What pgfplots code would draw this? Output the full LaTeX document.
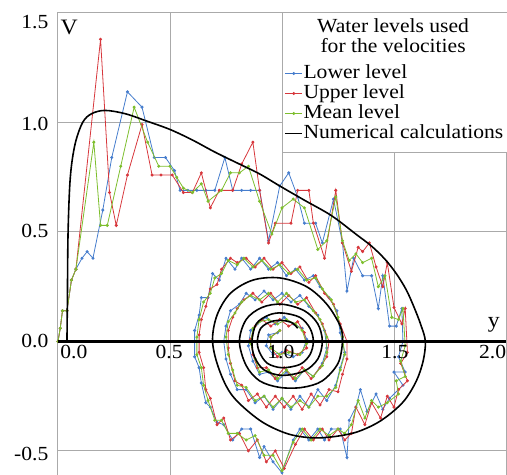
\documentclass[border=0pt]{standalone}
\usepackage{pgfplots}
\pgfplotsset{compat=1.18}
\usepackage{fontspec}
\setmainfont{Liberation Serif}[FakeStretch=1.08]
\definecolor{blueC}{RGB}{70,125,205}
\definecolor{redC}{RGB}{215,55,60}
\definecolor{greenC}{RGB}{125,190,45}
\definecolor{gridgray}{RGB}{170,170,170}
\newcommand{\tf}{\fontsize{20bp}{20bp}\selectfont}
\begin{document}
\begin{tikzpicture}
\useasboundingbox (-58bp,0bp) rectangle (449bp,475bp);
\begin{axis}[at={(0,0)}, anchor=south west, scale only axis,
  width=448bp, height=462bp,
  xmin=0, xmax=2, ymin=-0.61, ymax=1.5,
  xtick={0,0.5,1,1.5,2}, ytick={-0.5,0,0.5,1,1.5},
  xticklabels={}, yticklabels={}, major tick length=0pt,
  grid=major, grid style={draw=gridgray, line width=1bp},
  axis line style={draw=gridgray, line width=1bp},
  clip mode=individual,
  legend style={at={(0.505,0.891)}, anchor=north west, draw=none, fill=none,
    font=\tf, inner sep=0pt, row sep=0pt,
    nodes={inner sep=0.5bp, text height=14bp, text depth=5bp}},
  legend cell align=left,
  legend image code/.code={\draw[mark repeat=2,mark phase=2] plot coordinates {(0bp,0bp)(8.5bp,0bp)(17bp,0bp)};},
]
% Lower level (blue)
\addplot[color=blueC, line width=0.8bp, mark=*, mark size=1.1bp] coordinates {
(0.00,0.00)(0.01,0.06)(0.02,0.14)(0.04,0.14)(0.06,0.28)(0.08,0.33)(0.107,0.38)(0.13,0.41)(0.156,0.38)
(0.20,0.60)(0.24,0.84)(0.31,1.14)(0.375,1.07)(0.43,0.84)(0.48,0.84)(0.52,0.78)(0.545,0.69)(0.58,0.69)
(0.62,0.69)(0.66,0.69)(0.70,0.69)(0.745,0.84)(0.78,0.69)(0.82,0.69)(0.86,0.69)(0.90,0.69)(0.94,0.46)
(0.99,0.71)(1.03,0.77)(1.07,0.66)(1.10,0.54)(1.15,0.54)(1.18,0.45)(1.23,0.65)(1.27,0.45)(1.29,0.23)
(1.32,0.38)(1.36,0.30)(1.40,0.30)(1.43,0.15)(1.45,0.30)(1.48,0.07)(1.51,0.07)(1.535,0.15)(1.54,0.0)
(1.52,-0.07)(1.55,-0.14)(1.50,-0.14)(1.54,-0.20)(1.48,-0.26)(1.45,-0.31)(1.42,-0.24)(1.38,-0.32)
(1.35,-0.22)(1.33,-0.30)(1.30,-0.36)(1.29,-0.53)(1.26,-0.40)(1.22,-0.40)(1.19,-0.45)(1.16,-0.40)
(1.12,-0.45)(1.08,-0.40)(1.05,-0.45)(1.00,-0.60)(0.96,-0.55)(0.92,-0.48)(0.90,-0.53)(0.86,-0.40)
(0.82,-0.40)(0.78,-0.45)(0.74,-0.38)(0.71,-0.37)(0.68,-0.30)(0.66,-0.28)(0.64,-0.19)(0.63,-0.12)
(0.61,-0.07)(0.61,0.00)(0.61,0.05)(0.63,0.12)(0.64,0.20)(0.67,0.20)(0.69,0.31)(0.72,0.28)(0.75,0.38)
(0.79,0.33)(0.82,0.38)(0.86,0.33)(0.90,0.38)(0.94,0.33)(0.98,0.36)(1.02,0.30)(1.06,0.33)(1.10,0.28)
(1.14,0.30)(1.17,0.25)(1.21,0.20)(1.245,0.14)(1.26,0.04)(1.28,-0.05)(1.26,-0.12)(1.24,-0.20)
(1.20,-0.27)(1.16,-0.22)(1.12,-0.30)(1.08,-0.25)(1.04,-0.31)(1.00,-0.26)(0.96,-0.31)(0.92,-0.25)
(0.88,-0.28)(0.84,-0.22)(0.80,-0.22)(0.77,-0.15)(0.75,-0.08)(0.74,0.00)(0.75,0.07)(0.77,0.14)
(0.81,0.17)(0.84,0.22)(0.88,0.19)(0.92,0.23)(0.96,0.19)(1.00,0.22)(1.04,0.18)(1.08,0.21)(1.12,0.16)
(1.16,0.12)(1.19,0.05)(1.20,-0.03)(1.18,-0.10)(1.14,-0.16)(1.10,-0.13)(1.06,-0.18)(1.02,-0.14)
(0.98,-0.18)(0.94,-0.14)(0.90,-0.15)(0.87,-0.09)(0.85,-0.02)(0.86,0.05)(0.89,0.08)(0.93,0.11)
(0.97,0.08)(1.01,0.11)(1.05,0.08)(1.09,0.06)(1.11,0.01)(1.09,-0.05)(1.05,-0.07)(1.00,-0.05)
(0.96,-0.06)(0.93,-0.02)(0.94,0.03)(0.98,0.04)
};
\addlegendentry{Lower level}
% Upper level (red)
\addplot[color=redC, line width=0.8bp, mark=*, mark size=1.1bp] coordinates {
(0.00,0.00)(0.01,0.06)(0.02,0.14)(0.04,0.14)(0.06,0.28)(0.08,0.33)(0.19,1.38)(0.23,0.68)(0.26,0.53)
(0.31,0.76)(0.375,0.99)(0.42,0.76)(0.46,0.76)(0.51,0.76)(0.56,0.68)(0.60,0.68)(0.64,0.77)(0.68,0.61)
(0.72,0.69)(0.78,0.69)(0.82,0.81)(0.87,0.91)(0.90,0.69)(0.94,0.45)(0.97,0.54)(1.04,0.54)(1.07,0.69)
(1.12,0.69)(1.14,0.54)(1.19,0.38)(1.24,0.69)(1.27,0.45)(1.31,0.32)(1.34,0.43)(1.36,0.41)(1.39,0.45)
(1.42,0.34)(1.45,0.25)(1.47,0.36)(1.50,0.155)(1.535,0.08)(1.55,0.15)(1.56,-0.05)(1.53,-0.10)
(1.56,-0.18)(1.52,-0.22)(1.50,-0.30)(1.47,-0.25)(1.44,-0.35)(1.40,-0.28)(1.37,-0.38)(1.33,-0.30)
(1.31,-0.42)(1.28,-0.45)(1.25,-0.40)(1.21,-0.45)(1.18,-0.40)(1.14,-0.45)(1.10,-0.40)(1.06,-0.47)
(1.01,-0.58)(0.97,-0.50)(0.93,-0.55)(0.89,-0.45)(0.85,-0.50)(0.81,-0.42)(0.77,-0.45)(0.74,-0.35)
(0.71,-0.38)(0.68,-0.26)(0.66,-0.22)(0.65,-0.12)(0.63,-0.05)(0.63,0.03)(0.64,0.10)(0.66,0.16)
(0.68,0.24)(0.71,0.26)(0.73,0.33)(0.77,0.38)(0.80,0.36)(0.84,0.38)(0.88,0.34)(0.92,0.38)(0.96,0.33)
(1.00,0.36)(1.04,0.31)(1.08,0.34)(1.12,0.27)(1.15,0.30)(1.19,0.22)(1.23,0.17)(1.26,0.08)(1.29,0.00)
(1.29,-0.08)(1.27,-0.15)(1.25,-0.23)(1.21,-0.22)(1.17,-0.29)(1.13,-0.24)(1.09,-0.31)(1.05,-0.25)
(1.01,-0.30)(0.97,-0.25)(0.93,-0.30)(0.89,-0.24)(0.85,-0.27)(0.82,-0.20)(0.79,-0.18)(0.77,-0.10)
(0.76,-0.03)(0.76,0.05)(0.78,0.11)(0.80,0.15)(0.83,0.19)(0.87,0.22)(0.91,0.18)(0.95,0.22)(0.99,0.17)
(1.03,0.21)(1.07,0.17)(1.11,0.20)(1.15,0.13)(1.18,0.08)(1.21,0.00)(1.20,-0.07)(1.17,-0.12)(1.13,-0.17)
(1.09,-0.12)(1.05,-0.17)(1.01,-0.12)(0.97,-0.17)(0.93,-0.12)(0.89,-0.12)(0.87,-0.06)(0.86,0.01)
(0.88,0.07)(0.91,0.10)(0.95,0.07)(0.99,0.10)(1.03,0.07)(1.07,0.09)(1.10,0.04)(1.11,-0.03)(1.07,-0.06)
(1.02,-0.04)(0.98,-0.07)(0.95,-0.03)(0.95,0.02)(0.99,0.05)
};
\addlegendentry{Upper level}
% Mean level (green)
\addplot[color=greenC, line width=0.8bp, mark=*, mark size=1.1bp] coordinates {
(0.00,0.00)(0.01,0.06)(0.02,0.14)(0.04,0.14)(0.06,0.28)(0.08,0.33)(0.16,0.91)(0.19,0.53)(0.22,0.53)
(0.28,0.80)(0.34,1.07)(0.40,0.91)(0.45,0.80)(0.50,0.80)(0.53,0.75)(0.56,0.70)(0.60,0.68)(0.64,0.72)
(0.67,0.64)(0.73,0.69)(0.77,0.77)(0.81,0.77)(0.85,0.80)(0.90,0.64)(0.955,0.49)(1.00,0.61)(1.05,0.65)
(1.10,0.61)(1.16,0.42)(1.20,0.46)(1.24,0.66)(1.27,0.46)(1.30,0.37)(1.33,0.40)(1.36,0.36)(1.40,0.38)
(1.43,0.25)(1.46,0.30)(1.49,0.11)(1.52,0.10)(1.54,0.15)(1.55,-0.02)(1.53,-0.09)(1.55,-0.16)
(1.51,-0.18)(1.52,-0.24)(1.47,-0.28)(1.43,-0.30)(1.40,-0.27)(1.37,-0.35)(1.34,-0.27)(1.31,-0.38)
(1.28,-0.42)(1.25,-0.40)(1.21,-0.43)(1.17,-0.40)(1.13,-0.45)(1.09,-0.40)(1.05,-0.46)(1.00,-0.59)
(0.96,-0.52)(0.92,-0.52)(0.88,-0.43)(0.84,-0.45)(0.80,-0.42)(0.76,-0.42)(0.73,-0.36)(0.70,-0.36)
(0.67,-0.27)(0.65,-0.20)(0.64,-0.12)(0.62,-0.06)(0.62,0.02)(0.63,0.10)(0.65,0.18)(0.68,0.22)
(0.70,0.29)(0.73,0.31)(0.76,0.37)(0.80,0.35)(0.83,0.38)(0.87,0.34)(0.91,0.37)(0.95,0.33)(0.99,0.35)
(1.03,0.31)(1.07,0.33)(1.11,0.28)(1.15,0.29)(1.18,0.24)(1.22,0.19)(1.25,0.11)(1.27,0.02)(1.28,-0.06)
(1.26,-0.13)(1.24,-0.21)(1.20,-0.25)(1.16,-0.25)(1.12,-0.30)(1.08,-0.27)(1.04,-0.30)(1.00,-0.26)
(0.96,-0.30)(0.92,-0.25)(0.88,-0.27)(0.84,-0.21)(0.80,-0.20)(0.78,-0.13)(0.76,-0.06)(0.75,0.02)
(0.76,0.09)(0.79,0.13)(0.82,0.18)(0.86,0.21)(0.90,0.19)(0.94,0.22)(0.98,0.18)(1.02,0.22)(1.06,0.18)
(1.10,0.19)(1.14,0.14)(1.17,0.10)(1.20,0.02)(1.20,-0.05)(1.18,-0.11)(1.14,-0.16)(1.10,-0.13)
(1.06,-0.17)(1.02,-0.13)(0.98,-0.17)(0.94,-0.13)(0.90,-0.14)(0.88,-0.08)(0.86,-0.01)(0.87,0.06)
(0.90,0.09)(0.94,0.10)(0.98,0.08)(1.02,0.10)(1.06,0.08)(1.09,0.05)(1.11,-0.01)(1.08,-0.06)(1.03,-0.05)
(0.99,-0.06)(0.95,-0.03)(0.95,0.02)(0.99,0.05)
};
\addlegendentry{Mean level}
% Numerical calculations (black)
\addplot[black, line width=1.6bp, smooth, tension=0.55] coordinates {
(0.04,0.0)(0.042,0.2)(0.045,0.5)(0.055,0.75)(0.076,0.9)(0.11,1.0)(0.15,1.04)(0.21,1.055)(0.3,1.04)
(0.4,1.005)(0.5,0.968)(0.6,0.92)(0.7,0.865)(0.81,0.81)(0.9,0.765)(0.99,0.71)(1.1,0.645)(1.22,0.575)
(1.33,0.49)(1.40,0.435)(1.46,0.375)(1.51,0.31)(1.555,0.235)(1.59,0.155)(1.62,0.075)(1.64,0.0)
(1.63,-0.09)(1.60,-0.18)(1.55,-0.265)(1.49,-0.325)(1.42,-0.375)(1.33,-0.415)(1.23,-0.435)
(1.13,-0.44)(1.02,-0.42)(0.90,-0.36)(0.78,-0.25)(0.72,-0.13)(0.69,0.0)(0.71,0.12)(0.77,0.22)
(0.87,0.28)(0.99,0.29)(1.11,0.25)(1.20,0.17)(1.26,0.07)(1.27,0.0)(1.25,-0.10)(1.18,-0.18)(1.09,-0.21)
(0.99,-0.21)(0.90,-0.18)(0.84,-0.11)(0.81,0.0)(0.84,0.10)(0.91,0.155)(1.0,0.17)(1.10,0.14)(1.16,0.08)
(1.18,0.0)(1.16,-0.08)(1.10,-0.135)(1.0,-0.155)(0.92,-0.13)(0.877,-0.07)(0.866,0.0)(0.885,0.08)
(0.94,0.12)(1.0,0.13)(1.08,0.11)(1.125,0.06)(1.14,0.0)(1.125,-0.06)(1.08,-0.105)(1.0,-0.12)
(0.935,-0.10)(0.90,-0.05)(0.89,0.0)(0.905,0.06)(0.95,0.09)(1.0,0.096)(1.045,0.085)(1.07,0.06)
};
\addlegendentry{Numerical calculations}
% x axis line
\addplot[black, line width=2.4bp, forget plot] coordinates {(0,0) (2,0)};
% legend box and title
\draw[gridgray, fill=white, line width=1bp] (axis cs:1,1.5) rectangle (axis cs:2.01,0.863);
\node[font=\tf, anchor=base] at (axis cs:1.496,1.411) {Water levels used};
\node[font=\tf, anchor=base] at (axis cs:1.496,1.320) {for the velocities};
% axis names
\node[font=\fontsize{22bp}{22bp}\selectfont, anchor=base] at (axis cs:0.05,1.40) {V};
\node[font=\fontsize{22bp}{22bp}\selectfont, anchor=base] at (axis cs:1.946,0.064) {y};
% x tick labels
\node[font=\tf, anchor=base] at (axis cs:0.071,-0.078) {0.0};
\node[font=\tf, anchor=base] at (axis cs:0.496,-0.078) {0.5};
\node[font=\tf, anchor=base] at (axis cs:0.995,-0.078) {1.0};
\node[font=\tf, anchor=base] at (axis cs:1.504,-0.078) {1.5};
\node[font=\tf, anchor=base] at (axis cs:1.94,-0.078) {2.0};
% y tick labels
\node[font=\tf, anchor=base east] at (axis cs:-0.027,1.429) {1.5};
\node[font=\tf, anchor=base east] at (axis cs:-0.027,0.963) {1.0};
\node[font=\tf, anchor=base east] at (axis cs:-0.027,0.475) {0.5};
\node[font=\tf, anchor=base east] at (axis cs:-0.027,-0.027) {0.0};
\node[font=\tf, anchor=base east] at (axis cs:-0.027,-0.543) {-0.5};
\end{axis}
\end{tikzpicture}
\end{document}
